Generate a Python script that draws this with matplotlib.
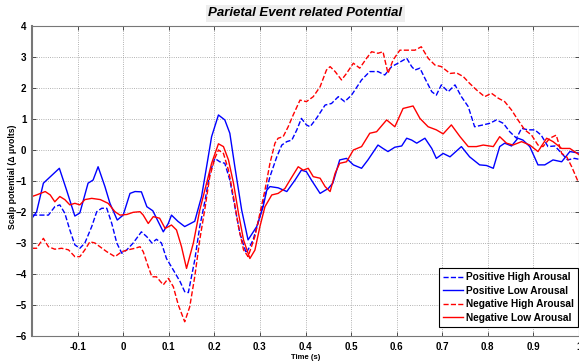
""" Parietal event related potential plot """

import matplotlib
matplotlib.use('Agg')
import matplotlib.pyplot as plt

plt.rcParams['font.family'] = ['Liberation Sans', 'DejaVu Sans']

# Positive High Arousal (blue dashed)
pos_high_t = [-0.2, -0.182, -0.164, -0.15, -0.139, -0.128, -0.117, -0.106, -0.095, -0.084,
              -0.069, -0.058, -0.047, -0.036, -0.025, -0.014, -0.003, 0.008, 0.022, 0.04,
              0.052, 0.063, 0.073, 0.084, 0.095, 0.11, 0.125, 0.135, 0.143, 0.157,
              0.168, 0.18, 0.19, 0.201, 0.212, 0.223, 0.234, 0.245, 0.256, 0.27,
              0.285, 0.3, 0.311, 0.322, 0.337, 0.348, 0.359, 0.37, 0.381, 0.391,
              0.402, 0.41, 0.424, 0.443, 0.457, 0.472, 0.486, 0.501, 0.523, 0.541,
              0.559, 0.574, 0.589, 0.603, 0.622, 0.633, 0.64, 0.651, 0.662, 0.677,
              0.687, 0.698, 0.713, 0.728, 0.742, 0.757, 0.771, 0.79, 0.804, 0.819,
              0.834, 0.848, 0.863, 0.874, 0.888, 0.903, 0.917, 0.932, 0.947, 0.962,
              0.975, 0.99, 1.0]
pos_high_v = [-2.1, -2.1, -2.1, -1.83, -1.77, -2.04, -2.58, -3.06, -3.17, -3.0,
              -2.47, -1.99, -1.88, -1.88, -2.37, -3.0, -3.33, -3.22, -3.0, -2.64,
              -2.8, -3.0, -2.88, -3.0, -3.5, -3.87, -4.25, -4.57, -4.6, -3.55,
              -2.47, -1.6, -0.75, -0.27, -0.38, -0.43, -0.97, -1.83, -2.69, -3.33,
              -2.9, -2.15, -1.5, -0.86, -0.22, 0.16, 0.27, 0.32, 0.65, 1.02,
              0.81, 0.75, 1.02, 1.45, 1.5, 1.72, 1.56, 1.77, 2.26, 2.53,
              2.53, 2.42, 2.69, 2.8, 2.96, 2.69, 2.58, 2.64, 2.31, 1.88,
              1.77, 2.1, 1.88, 2.1, 1.72, 1.4, 0.75, 0.81, 0.86, 0.97,
              0.86, 0.59, 0.38, 0.7, 0.65, 0.65, 0.48, 0.11, 0.13, -0.11,
              -0.32, -0.27, -0.3]

# Positive Low Arousal (blue solid)
pos_low_t = [-0.2, -0.19, -0.175, -0.14, -0.124, -0.106, -0.095, -0.077, -0.066, -0.055, -0.04,
             -0.029, -0.013, 0.0, 0.015, 0.026, 0.04, 0.052, 0.065, 0.088, 0.099,
             0.106, 0.12, 0.135, 0.157, 0.172, 0.183, 0.194, 0.209, 0.223, 0.234,
             0.245, 0.26, 0.274, 0.293, 0.307, 0.315, 0.322, 0.34, 0.359, 0.377,
             0.391, 0.402, 0.413, 0.432, 0.45, 0.46, 0.475, 0.49, 0.505, 0.523,
             0.537, 0.559, 0.57, 0.581, 0.596, 0.611, 0.622, 0.633, 0.644, 0.662,
             0.677, 0.687, 0.702, 0.717, 0.742, 0.76, 0.782, 0.797, 0.812, 0.826,
             0.837, 0.852, 0.866, 0.877, 0.892, 0.91, 0.925, 0.943, 0.962, 0.98, 1.0]
pos_low_v = [-2.2, -2.0, -1.07, -0.59, -1.3, -2.13, -2.03, -1.07, -0.97, -0.54, -1.18,
             -1.72, -2.26, -2.1, -1.4, -1.34, -1.35, -1.83, -1.96, -2.64, -2.37,
             -2.1, -2.3, -2.47, -2.3, -1.5, -0.54, 0.43, 1.13, 0.97, 0.54,
             -0.54, -1.94, -2.9, -2.47, -1.83, -1.3, -1.18, -1.22, -1.34, -0.97,
             -0.65, -0.7, -0.97, -1.4, -1.24, -1.07, -0.32, -0.27, -0.48, -0.59,
             -0.32, 0.16, 0.05, -0.05, 0.09, 0.13, 0.38, 0.32, 0.22, 0.38,
             0.05, -0.27, -0.11, -0.22, 0.11, -0.22, -0.48, -0.5, -0.59, 0.11,
             0.22, 0.13, 0.38, 0.32, 0.11, -0.48, -0.48, -0.32, -0.38, -0.05, -0.1]

# Negative High Arousal (red dashed)
neg_high_t = [-0.2, -0.19, -0.175, -0.164, -0.15, -0.135, -0.12, -0.106, -0.095, -0.084,
              -0.073, -0.062, -0.051, -0.036, -0.018, -0.003, 0.011, 0.026, 0.037, 0.044,
              0.055, 0.063, 0.073, 0.088, 0.099, 0.11, 0.121, 0.135, 0.146, 0.157,
              0.168, 0.18, 0.19, 0.201, 0.209, 0.22, 0.231, 0.242, 0.253, 0.264,
              0.274, 0.289, 0.3, 0.311, 0.322, 0.333, 0.34, 0.351, 0.362, 0.373,
              0.388, 0.402, 0.417, 0.432, 0.446, 0.454, 0.465, 0.479, 0.49, 0.505,
              0.519, 0.534, 0.545, 0.559, 0.57, 0.581, 0.592, 0.607, 0.625, 0.64,
              0.654, 0.669, 0.684, 0.698, 0.717, 0.731, 0.746, 0.76, 0.775, 0.793,
              0.808, 0.823, 0.837, 0.852, 0.866, 0.881, 0.896, 0.91, 0.921, 0.936,
              0.95, 0.962, 0.973, 0.984, 0.998]
neg_high_v = [-3.17, -3.17, -2.85, -3.12, -3.2, -3.17, -3.22, -3.44, -3.44, -3.22,
              -2.96, -3.0, -3.12, -3.28, -3.44, -3.28, -3.22, -3.17, -3.12, -3.28,
              -3.76, -4.09, -4.09, -4.35, -4.14, -4.41, -5.0, -5.54, -5.06, -4.09,
              -2.9, -1.83, -0.86, -0.27, 0.0, -0.11, -0.65, -1.5, -2.47, -3.22,
              -3.44, -2.79, -2.04, -1.3, -0.43, 0.22, 0.38, 0.43, 0.75, 1.13,
              1.61, 1.56, 1.72, 2.04, 2.58, 2.69, 2.53, 2.26, 2.47, 2.8,
              2.64, 2.96, 3.17, 3.12, 3.17, 2.47, 2.9, 3.22, 3.22, 3.22,
              3.33, 2.96, 2.74, 2.69, 2.47, 2.49, 2.37, 2.15, 1.94, 1.72,
              1.83, 1.67, 1.56, 1.29, 0.97, 0.65, 0.48, 0.16, 0.11, 0.38,
              0.48, -0.11, -0.22, -0.54, -1.02]

# Negative Low Arousal (red solid)
neg_low_t = [-0.2, -0.19, -0.171, -0.16, -0.15, -0.139, -0.128, -0.117, -0.106, -0.095,
             -0.084, -0.069, -0.05, -0.033, -0.018, -0.007, 0.008, 0.022, 0.037, 0.044,
             0.055, 0.066, 0.08, 0.092, 0.106, 0.117, 0.128, 0.139, 0.154, 0.168,
             0.183, 0.194, 0.209, 0.22, 0.231, 0.242, 0.253, 0.264, 0.278, 0.289,
             0.3, 0.311, 0.326, 0.34, 0.355, 0.366, 0.384, 0.395, 0.406, 0.417,
             0.432, 0.443, 0.454, 0.465, 0.475, 0.49, 0.505, 0.523, 0.541, 0.556,
             0.578, 0.596, 0.614, 0.636, 0.651, 0.669, 0.687, 0.702, 0.72, 0.739,
             0.757, 0.775, 0.79, 0.812, 0.826, 0.841, 0.855, 0.874, 0.892, 0.91,
             0.929, 0.943, 0.962, 0.98, 1.0]
neg_low_v = [-1.5, -1.45, -1.34, -1.45, -1.67, -1.5, -1.6, -1.77, -1.72, -1.77,
             -1.6, -1.56, -1.6, -1.72, -1.99, -2.1, -2.08, -2.01, -1.99, -2.1,
             -2.37, -2.15, -2.2, -2.53, -2.42, -2.58, -3.12, -3.82, -3.0, -1.94,
             -1.07, -0.43, 0.2, 0.11, -0.32, -1.07, -2.04, -2.9, -3.5, -3.23,
             -2.47, -1.83, -1.45, -1.4, -1.24, -0.97, -0.54, -0.65, -0.59, -0.86,
             -0.91, -1.18, -1.34, -0.75, -0.43, -0.38, 0.0, 0.11, 0.54, 0.59,
             0.97, 0.75, 1.34, 1.42, 1.02, 0.75, 0.65, 0.52, 0.81, 0.43,
             0.11, 0.11, 0.16, 0.11, 0.43, 0.22, 0.16, 0.27, 0.16, -0.05,
             0.38, 0.27, 0.05, 0.05, -0.15]

x_ticks = [-0.1, 0, 0.1, 0.2, 0.3, 0.4, 0.5, 0.6, 0.7, 0.8, 0.9, 1]
y_ticks = [-6, -5, -4, -3, -2, -1, 0, 1, 2, 3, 4]

fig = plt.figure(figsize=(5.79, 3.63), dpi=100)
ax = fig.add_axes([32 / 579, 27 / 363, 547 / 579, 310 / 363])

ax.plot(pos_high_t, pos_high_v, color='blue', ls='--', lw=1.0, label='Positive High Arousal')
ax.plot(pos_low_t, pos_low_v, color='blue', ls='-', lw=1.0, label='Positive Low Arousal')
ax.plot(neg_high_t, neg_high_v, color='red', ls='--', lw=1.0, label='Negative High Arousal')
ax.plot(neg_low_t, neg_low_v, color='red', ls='-', lw=1.0, label='Negative Low Arousal')

ax.set_xlim(-0.2, 1.0)
ax.set_ylim(-6, 4)
ax.set_xticks(x_ticks)
ax.set_xticklabels([f'{t:g}' for t in x_ticks])
ax.set_yticks(y_ticks)
ax.tick_params(direction='in', top=True, right=True, length=3, width=0.6,
               labelsize=7, pad=4, colors='#333333', labelcolor='black')
for lab in ax.get_xticklabels() + ax.get_yticklabels():
    lab.set_fontweight('bold')
ax.grid(True, linestyle=':', color='#999999', lw=0.6)
for sp in ax.spines.values():
    sp.set_color('#777777')
    sp.set_linewidth(0.8)
ax.spines['left'].set_linewidth(1.5)

ax.set_xlabel('Time (s)', fontsize=5.5, fontweight='bold', labelpad=2)
ax.set_ylabel('Scalp potential (\u0394 \u03bcvolts)', fontsize=6.2, fontweight='bold')
ax.yaxis.set_label_coords(-0.028, 0.515)
ax.set_title('Parietal Event related Potential', fontsize=9.5, fontweight='bold',
             style='italic', pad=7,
             bbox=dict(facecolor='#eeeeee', edgecolor='none', pad=2))

leg = ax.legend(loc='lower right', bbox_to_anchor=(0.998, 9 / 310), borderaxespad=0,
                prop={'size': 7.3, 'weight': 'bold'}, fancybox=False, framealpha=1,
                edgecolor='black', handlelength=2.0, labelspacing=0.35,
                handletextpad=0.3, borderpad=0.4)
leg.get_frame().set_linewidth(0.8)

fig.savefig('out.png', dpi=100)
